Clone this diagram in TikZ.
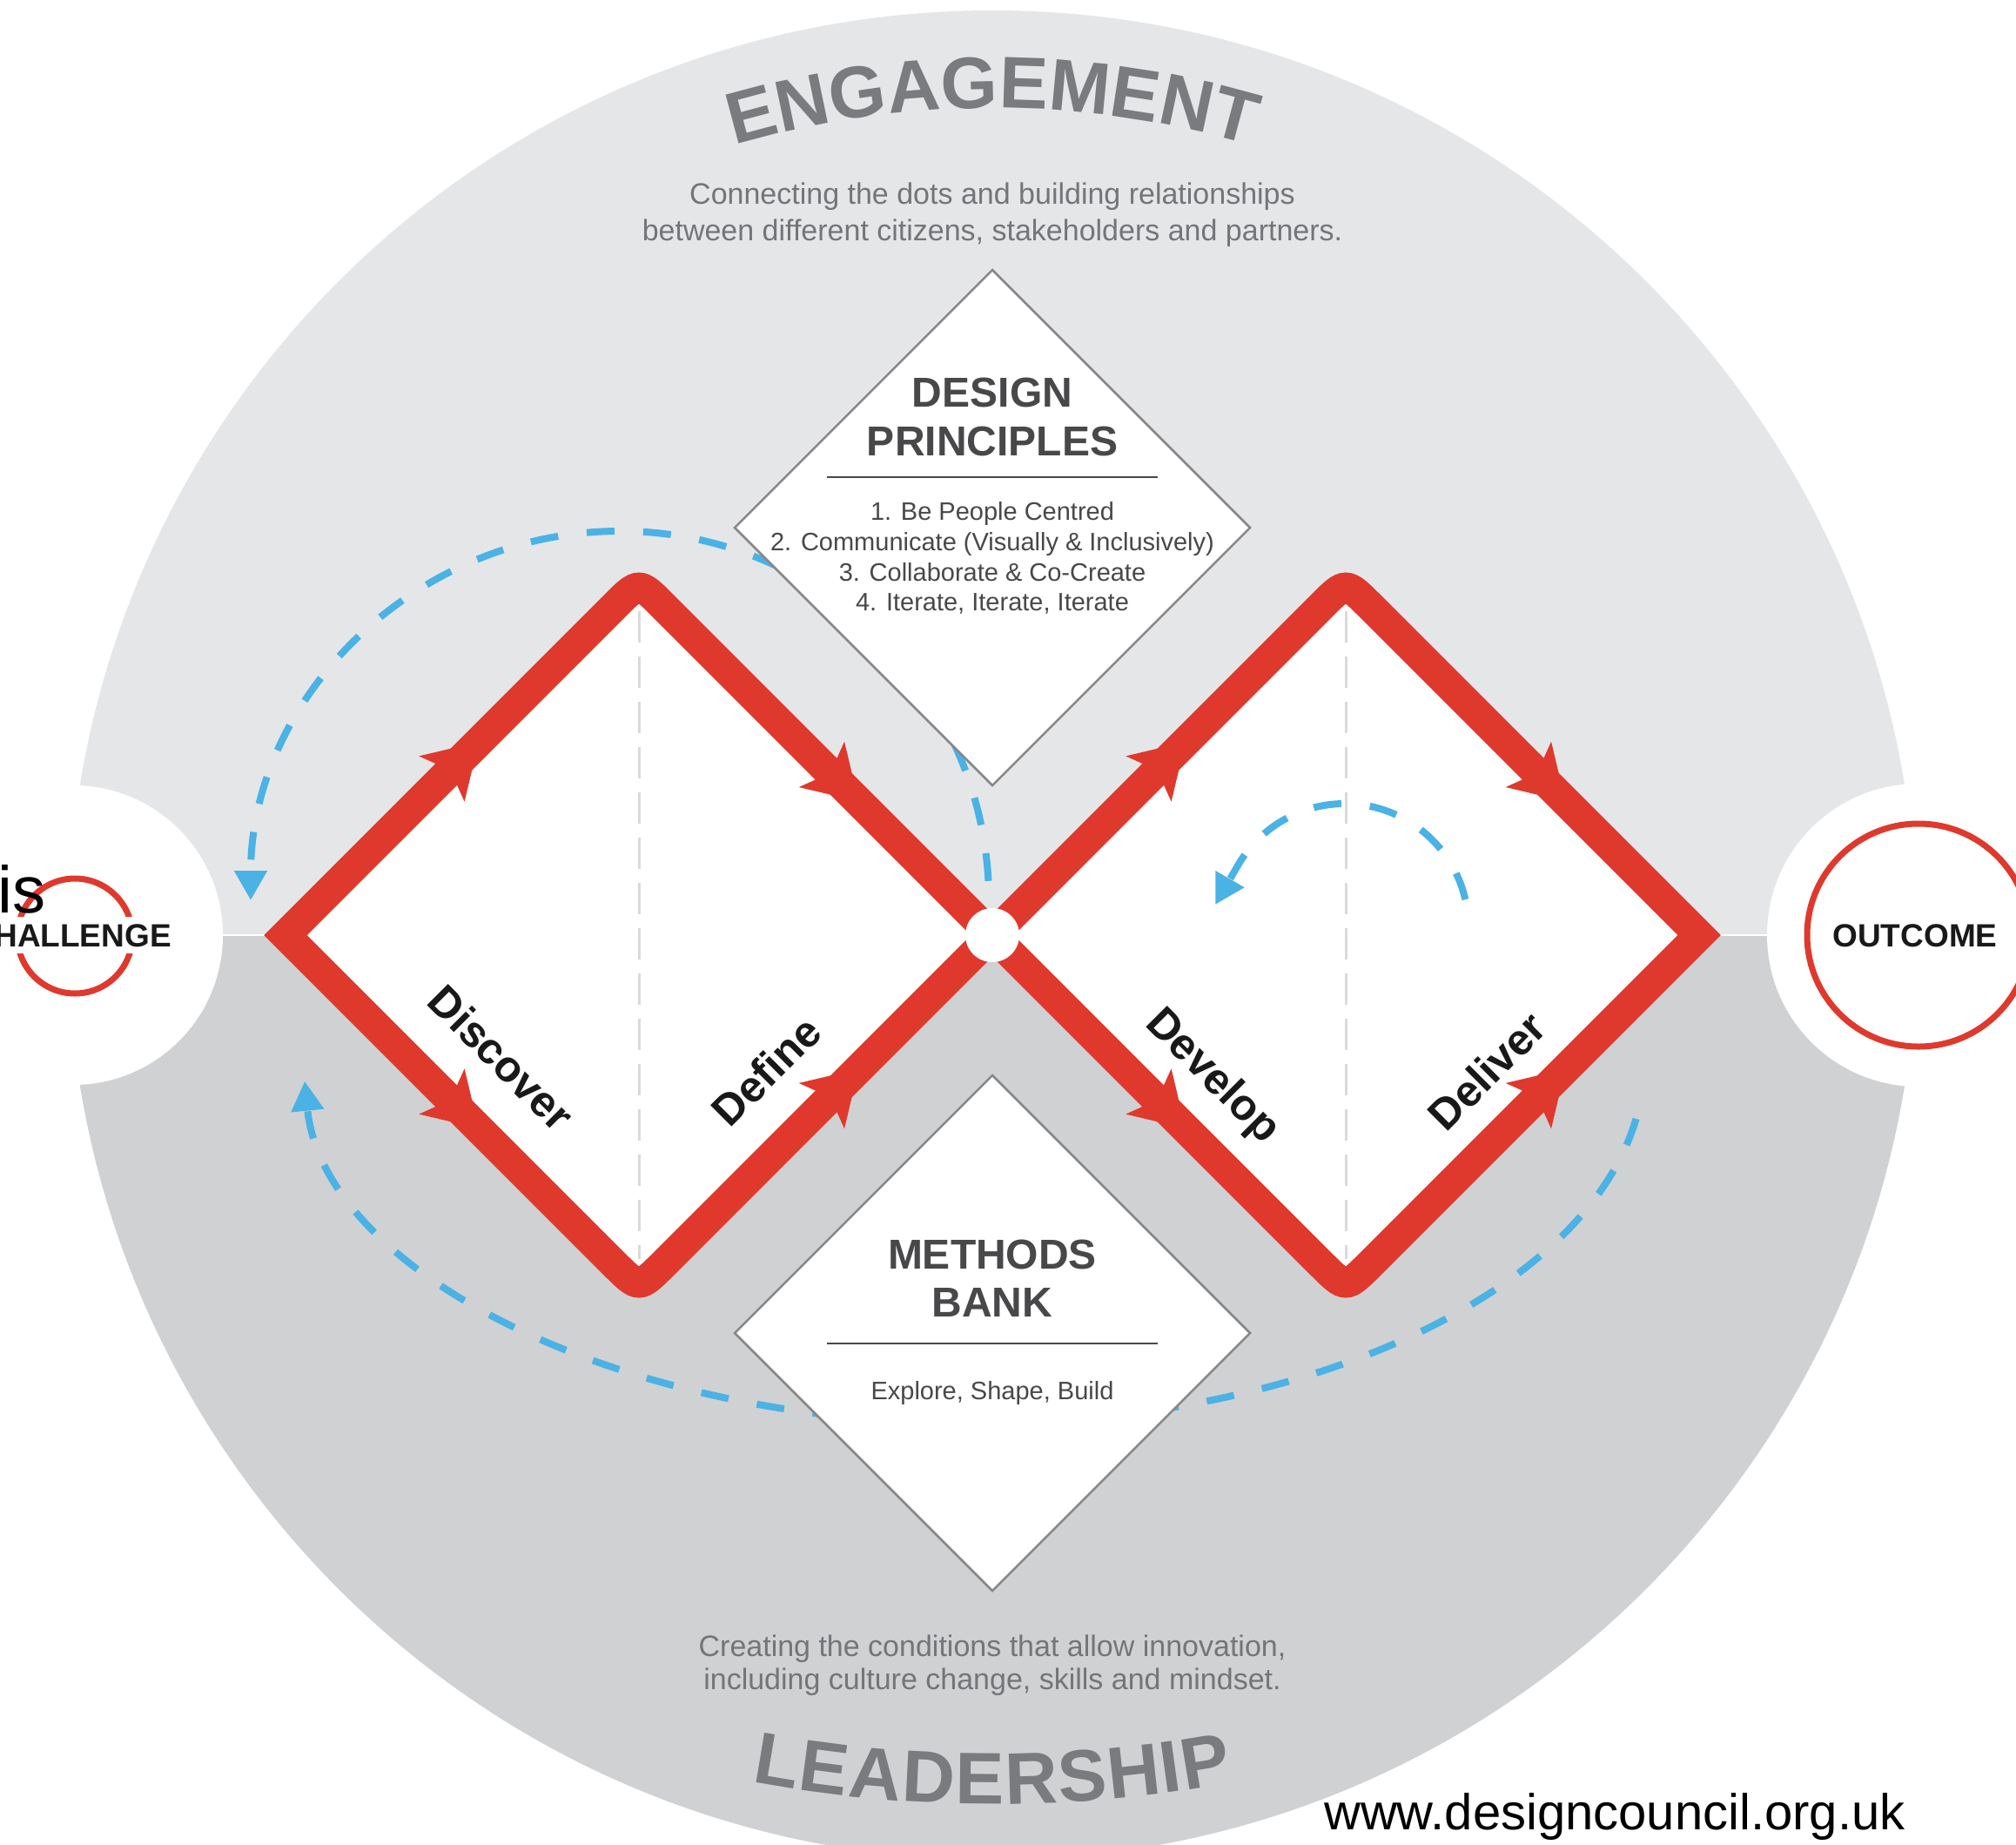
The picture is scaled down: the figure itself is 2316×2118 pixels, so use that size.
\documentclass[tikz,border=0pt]{standalone}
\usepackage{fontspec}
\setmainfont{Liberation Sans}
\usetikzlibrary{arrows.meta,decorations.markings,calc}
\definecolor{upperg}{RGB}{229,230,232}
\definecolor{lowerg}{RGB}{208,209,211}
\definecolor{redc}{RGB}{223,57,45}
\definecolor{bluec}{RGB}{74,178,229}
\definecolor{titleg}{RGB}{122,123,126}
\definecolor{subg}{RGB}{116,117,120}
\definecolor{boxtxt}{RGB}{72,72,74}
\definecolor{listtxt}{RGB}{72,72,74}
\definecolor{boxline}{RGB}{135,135,137}
\definecolor{midline}{RGB}{218,218,220}
\newcommand{\redhead}{\fill[redc] (-4pt,37pt) -- (56pt,0pt) -- (-4pt,-37pt) -- (10pt,0pt) -- cycle;}
\begin{document}
\begin{tikzpicture}[x=1pt,y=-1pt,
  bluedash/.style={draw=bluec, line width=8pt, dash pattern=on 32pt off 33pt},
  bluetip/.style={-{Triangle[length=34pt,width=36pt]}},
  redpath/.style={draw=redc, line width=35pt, line join=miter},
  arrowat/.style={postaction={decorate}, decoration={markings, mark=at position #1 with {\redhead}}},
  boxdia/.style={fill=white, draw=boxline, line width=2.5pt, line join=miter},
  ttl/.style={text=titleg, font=\fontsize{84}{84}\selectfont\bfseries, inner sep=0pt},
  sub/.style={text=subg, font=\fontsize{34}{40}\selectfont, inner sep=0pt},
  boxtitle/.style={text=boxtxt, font=\fontsize{48}{48}\selectfont\bfseries, inner sep=0pt},
  boxlist/.style={text=listtxt, font=\fontsize{29}{35}\selectfont, inner sep=0pt},
  phase/.style={text=black!90, font=\fontsize{50}{50}\selectfont\bfseries, inner sep=0pt},
  endlabel/.style={text=black!90, font=\fontsize{37}{37}\selectfont\bfseries},
  midrule/.style={draw=midline, line width=3pt, dash pattern=on 36pt off 16pt}
]
\useasboundingbox (0,0) rectangle (2316,2118);
\clip (0,0) rectangle (2316,2118);
\fill[white] (0,0) rectangle (2316,2118);

% big circle
\coordinate (C) at (1140,1074);
\fill[upperg] (C) circle[radius=1062pt];
\begin{scope}
\clip (0,1074) rectangle (2316,2118);
\fill[lowerg] (C) circle[radius=1062pt];
\end{scope}
\draw[white, line width=2pt] (70,1074) -- (2210,1074);

% side circles
\coordinate (WL) at (84,1074);
\coordinate (WR) at (2204,1074);
\coordinate (RL) at (86,1075);
\fill[white] (WL) circle[radius=172pt];
\fill[white] (WR) circle[radius=174pt];
\draw[redc, line width=7pt] (RL) circle[radius=66pt];
\draw[redc, line width=7pt] (WR) circle[radius=128pt];

% blue dashed arcs (outer)
\coordinate (A1c) at (712,1034);
\draw[bluedash, bluetip] (A1c) ++(3:424pt) arc[start angle=3, end angle=180, radius=424pt];
\coordinate (A2c) at (1119,1220);
\draw[bluedash, bluetip] (A2c) ++(-9:770pt and 415pt) arc[start angle=-9, end angle=-177, x radius=770pt, y radius=415pt];

% double diamond
\coordinate (L1) at (328,1074);
\coordinate (T1) at (734,668);
\coordinate (J) at (1140,1074);
\coordinate (B1) at (734,1480);
\coordinate (T2) at (1546,668);
\coordinate (R2) at (1952,1074);
\coordinate (B2) at (1546,1480);
\fill[white] (L1) -- (T1) -- (J) -- (B1) -- cycle;
\fill[white] (J) -- (T2) -- (R2) -- (B2) -- cycle;
\draw[midrule] (734,702) -- (734,1446);
\draw[midrule] (1546,702) -- (1546,1446);
\draw[redpath] (L1) -- ($(T1)!40pt!(L1)$) .. controls (T1) .. ($(T1)!40pt!(J)$) -- (J) -- ($(B1)!40pt!(J)$) .. controls (B1) .. ($(B1)!40pt!(L1)$) -- cycle;
\draw[redpath] (J) -- ($(T2)!40pt!(J)$) .. controls (T2) .. ($(T2)!40pt!(R2)$) -- (R2) -- ($(B2)!40pt!(R2)$) .. controls (B2) .. ($(B2)!40pt!(J)$) -- cycle;
\path[arrowat=0.449] (L1) -- (T1);
\path[arrowat=0.524] (T1) -- (J);
\path[arrowat=0.449] (L1) -- (B1);
\path[arrowat=0.524] (B1) -- (J);
\path[arrowat=0.449] (J) -- (T2);
\path[arrowat=0.524] (T2) -- (R2);
\path[arrowat=0.449] (J) -- (B2);
\path[arrowat=0.524] (B2) -- (R2);
\node[circle, fill=white, minimum size=62pt, inner sep=0pt] (Jc) at (J) {};

% blue dashed arc inside right diamond
\coordinate (A3c) at (1545,1065);
\draw[bluedash, bluetip] (A3c) ++(13:142pt) arc[start angle=13, end angle=150, radius=142pt] -- ++(240:52pt);

\node[phase, rotate=-45] (disc) at (576,1215) {Discover};
\node[phase, rotate=45] (defi) at (880,1230) {Define};
\node[phase, rotate=-45] (deve) at (1392,1237) {Develop};
\node[phase, rotate=45] (deli) at (1708,1230) {Deliver};

% design principles
\draw[boxdia] (1140,310) -- (1436,606) -- (1140,902) -- (844,606) -- cycle;
\node[boxtitle, anchor=base] (dp1) at (1140,467) {DESIGN};
\node[boxtitle, anchor=base] (dp2) at (1140,523) {PRINCIPLES};
\draw[boxtxt, line width=2.5pt] (950,548) -- (1330,548);
\node[boxlist, anchor=base] (l1) at (1140,597) {1. Be People Centred};
\node[boxlist, anchor=base] (l2) at (1140,632) {2. Communicate (Visually \& Inclusively)};
\node[boxlist, anchor=base] (l3) at (1140,667) {3. Collaborate \& Co-Create};
\node[boxlist, anchor=base] (l4) at (1140,701) {4. Iterate, Iterate, Iterate};

% methods bank
\draw[boxdia] (1140,1235) -- (1436,1531) -- (1140,1827) -- (844,1531) -- cycle;
\node[boxtitle, anchor=base] (mb1) at (1140,1457) {METHODS};
\node[boxtitle, anchor=base] (mb2) at (1140,1512) {BANK};
\draw[boxtxt, line width=2.5pt] (950,1543) -- (1330,1543);
\node[boxlist, anchor=base] (mb3) at (1140,1607) {Explore, Shape, Build};

% subtitles
\node[sub, anchor=base] (s1) at (1140,234) {Connecting the dots and building relationships};
\node[sub, anchor=base] (s2) at (1140,276) {between different citizens, stakeholders and partners.};
\node[sub, anchor=base] (s3) at (1140,1902) {Creating the conditions that allow innovation,};
\node[sub, anchor=base] (s4) at (1140,1940) {including culture change, skills and mindset.};

% curved titles
\foreach \ch/\off [count=\i] in {E/-272.95,N/-214.65,G/-151.65,A/-88.65,G/-25.65,E/35.05,M/98.05,E/161.05,N/219.35,T/275.3}{
  \pgfmathsetmacro{\ang}{\off/1050*180/pi}
  \pgfmathsetmacro{\rot}{-1*(\ang)}
  \pgfmathsetmacro{\pol}{90-(\ang)}
  \node[ttl, anchor=base, rotate=\rot] (eng\i) at ($(1140,1174)+(\pol:1050pt)$) {\ch};
}
\foreach \ch/\off [count=\i] in {L/-244.9,E/-191.25,A/-132.95,D/-72.35,E/-14.05,R/44.25,S/102.55,H/160.85,I/202.85,P/242.55}{
  \pgfmathsetmacro{\ang}{1.03*\off/1519*180/pi}
  \pgfmathsetmacro{\pol}{-90+(\ang)}
  \node[ttl, anchor=base, rotate=\ang] (lead\i) at ($(1140,553)+(\pol:1519pt)$) {\ch};
}

% end labels
\node[endlabel, fill=white, inner sep=8pt, anchor=base east] (chal) at (205,1087) {CHALLENGE};
\node[endlabel, inner sep=0pt, anchor=base] (outc) at (2200,1087) {OUTCOME};
\node[font=\fontsize{76}{76}\selectfont, inner sep=0pt, anchor=base west] (isx) at (-3,1048) {is};
\node[font=\fontsize{58}{58}\selectfont, inner sep=0pt, anchor=base west] (url) at (1521,2101) {www.designcouncil.org.uk};
\end{tikzpicture}
\end{document}
